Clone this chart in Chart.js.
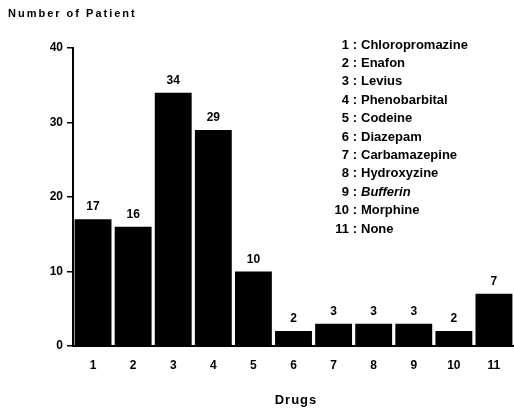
<!DOCTYPE html>
<html lang="en">
<head>
    <meta charset="UTF-8">
    <title>Number of Patient by Drugs</title>
    <script src="https://cdn.jsdelivr.net/npm/chart.js"></script>
    <style>
        body { margin: 0; background: #fff; }
    </style>
</head>
<body>

    <canvas id="graficoFarmaci" width="514" height="408"></canvas>

    <script>
        // dati
        const drugNumbers = ['1', '2', '3', '4', '5', '6', '7', '8', '9', '10', '11'];
        const patients = [17, 16, 34, 29, 10, 2, 3, 3, 3, 2, 7];
        const drugNames = ['Chloropromazine', 'Enafon', 'Levius', 'Phenobarbital', 'Codeine',
            'Diazepam', 'Carbamazepine', 'Hydroxyzine', 'Bufferin', 'Morphine', 'None'];
        const yTicks = [0, 10, 20, 30, 40];

        const font = '"Liberation Sans", Arial, Helvetica, sans-serif';

        // etichette sopra le barre + legenda + titoli
        const testiPlugin = {
            id: 'testi',
            afterDatasetsDraw(chart) {
                const ctx = chart.ctx;
                const meta = chart.getDatasetMeta(0);
                ctx.save();
                ctx.fillStyle = '#000';
                ctx.textAlign = 'center';
                ctx.textBaseline = 'alphabetic';
                ctx.font = 'bold 12px ' + font;
                meta.data.forEach((bar, i) => {
                    ctx.fillText(String(patients[i]), bar.x, bar.y - 9);
                });

                // legenda numerata
                ctx.textBaseline = 'middle';
                drugNames.forEach((name, i) => {
                    const y = 45 + i * 18.4;
                    ctx.font = 'bold 13px ' + font;
                    ctx.textAlign = 'right';
                    ctx.fillText(drugNumbers[i], 349, y);
                    ctx.textAlign = 'center';
                    ctx.fillText(':', 355, y);
                    ctx.textAlign = 'left';
                    ctx.font = (name === 'Bufferin' ? 'italic ' : '') + 'bold 13px ' + font;
                    ctx.fillText(name, 361, y);
                });

                // titoli assi con spaziatura
                ctx.letterSpacing = '2px';
                ctx.font = 'bold 11px ' + font;
                ctx.textAlign = 'left';
                ctx.fillText('Number of Patient', 8, 14);
                ctx.letterSpacing = '1px';
                ctx.font = 'bold 13px ' + font;
                ctx.textAlign = 'center';
                ctx.fillText('Drugs', 296, 400);
                ctx.restore();
            }
        };

        const ctx = document.getElementById('graficoFarmaci').getContext('2d');
        const chart = new Chart(ctx, {
            type: 'bar',
            data: {
                labels: drugNumbers,
                datasets: [{
                    data: patients,
                    backgroundColor: '#000',
                    borderWidth: 0,
                    barPercentage: 0.92,
                    categoryPercentage: 1.0
                }]
            },
            options: {
                responsive: false,
                animation: false,
                layout: { padding: { top: 48, right: 0, left: 0, bottom: 0 } },
                plugins: {
                    legend: { display: false },
                    tooltip: { enabled: false }
                },
                scales: {
                    x: {
                        grid: { display: false, drawTicks: false },
                        border: { display: true, color: '#000', width: 2 },
                        ticks: {
                            color: '#000',
                            padding: 12,
                            font: { family: font, size: 12, weight: 'bold' }
                        },
                        afterFit(scale) { scale.height = 62; }
                    },
                    y: {
                        min: 0,
                        max: 40,
                        afterBuildTicks(scale) {
                            scale.ticks = yTicks.map(v => ({ value: v }));
                        },
                        grid: {
                            drawOnChartArea: false,
                            drawTicks: true,
                            tickLength: 6,
                            color: '#000',
                            lineWidth: 1.5
                        },
                        border: { display: true, color: '#000', width: 2 },
                        ticks: {
                            color: '#000',
                            padding: 4,
                            font: { family: font, size: 12, weight: 'bold' }
                        },
                        afterFit(scale) { scale.width = 73; }
                    }
                }
            },
            plugins: [testiPlugin]
        });
    </script>

</body>
</html>
